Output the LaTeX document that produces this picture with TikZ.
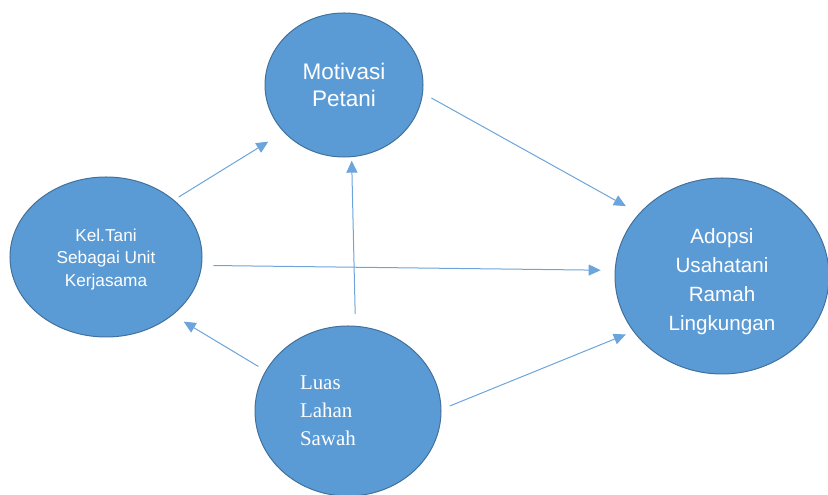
\documentclass[tikz,border=0pt]{standalone}
\usepackage{fontspec}
\setmainfont{Liberation Sans}
\newfontfamily\seriftext{Liberation Serif}
\usepackage{xcolor}
\usetikzlibrary{shapes,arrows.meta}

\definecolor{ovalblue}{RGB}{91,155,213}
\definecolor{ovaledge}{RGB}{65,113,156}
\definecolor{arrowblue}{RGB}{108,164,219}

\begin{document}
\begin{tikzpicture}[x=1bp,y=1bp]
    \tikzstyle{oval} = [ellipse, draw=ovaledge, line width=1bp, fill=ovalblue,
    text=white, inner sep=0pt, align=center]
    \tikzstyle{line} = [draw=arrowblue, line width=1bp,
    -{Triangle[length=12bp,width=11bp]}]

    \useasboundingbox (0,0) rectangle (828,495);

    % Define ovals
    \node [oval, minimum width=158bp, minimum height=144bp,
      font=\fontsize{22.6}{28}\selectfont] (motivasi) at (344,410)
      {Motivasi\\Petani};
    \node [oval, minimum width=192bp, minimum height=160bp,
      font=\fontsize{17.3}{22.5}\selectfont] (keltani) at (106,238)
      {\rule{0pt}{17bp}Kel.Tani\\Sebagai Unit\\Kerjasama};
    \node [oval, minimum width=214bp, minimum height=196bp,
      font=\fontsize{20.7}{29}\selectfont] (adopsi) at (722,219)
      {\rule{0pt}{26bp}Adopsi\\Usahatani\\Ramah\\Lingkungan};
    \node [oval, minimum width=186bp, minimum height=170bp,
      font=\seriftext\fontsize{21}{28}\selectfont,
      text width=96bp, align=left] (luas) at (348,84)
      {Luas\\Lahan\\Sawah};

    % Draw arrows between ovals
    \draw [line, shorten <=5.5bp, shorten >=18bp]
    (keltani.40.7) -- (motivasi.218.1);
    \draw [line, shorten <=9.6bp, shorten >=15bp]
    (motivasi.354.2) -- (adopsi.143.2);
    \draw [line, shorten <=11.5bp, shorten >=14bp]
    (keltani.355.2) -- (adopsi.177.6);
    \draw [line, shorten <=12bp, shorten >=3.5bp]
    (luas.85.9) -- (motivasi.276.8);
    \draw [line, shorten <=8.4bp, shorten >=12.7bp]
    (luas.154.5) -- (keltani.319);
    \draw [line, shorten <=9bp, shorten >=8bp]
    (luas.1.7) -- (adopsi.212.3);

  \end{tikzpicture}
\end{document}
